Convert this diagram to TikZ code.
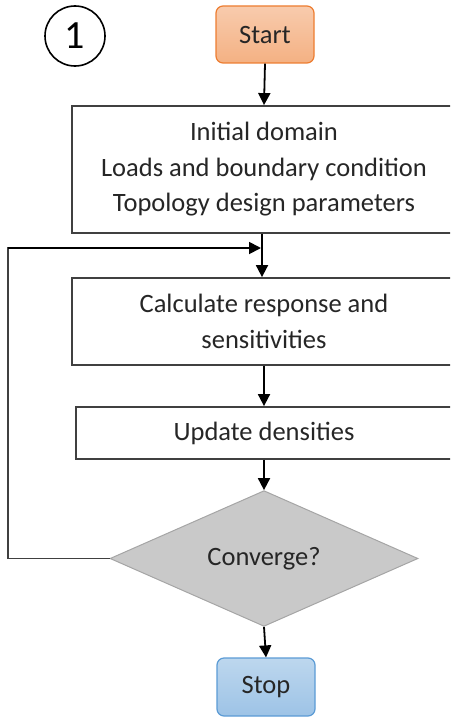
\documentclass[tikz,border=0pt]{standalone}
\usepackage{fontspec}
\setmainfont{Carlito}
\usetikzlibrary{shapes.geometric,arrows.meta}

\definecolor{startfill}{HTML}{F4B183}
\definecolor{startfilltop}{HTML}{F8CBAD}
\definecolor{startline}{HTML}{ED7D31}
\definecolor{stopfill}{HTML}{9DC3E6}
\definecolor{stopfilltop}{HTML}{BDD7EE}
\definecolor{stopline}{HTML}{5B9BD5}
\definecolor{convfill}{HTML}{C9C9C9}
\definecolor{convline}{HTML}{A5A5A5}
\definecolor{boxline}{HTML}{404040}
\definecolor{txt}{HTML}{262626}

\tikzset{
  terminal/.style={rectangle, rounded corners=7pt, line width=1.2pt,
    minimum width=98pt, minimum height=57pt, inner sep=0pt, text=txt},
  stepbox/.style={rectangle, draw=boxline, line width=1.8pt, fill=white,
    align=center, inner sep=0pt, text=txt},
  decision/.style={diamond, draw=convline, line width=1pt, fill=convfill,
    inner sep=0pt, minimum width=308pt, minimum height=107pt, text=txt},
  flow/.style={line width=1.8pt, -{Triangle[length=12pt,width=12pt]}},
  loopline/.style={line width=1.8pt, draw=boxline},
}

\begin{document}
\begin{tikzpicture}[x=1pt, y=-1pt,
  every node/.style={font=\fontsize{26.5}{35.5}\selectfont}]
\useasboundingbox (0,0) rectangle (450,717);
\clip (0,0) rectangle (450,717);

% label circle
\node[circle, draw, line width=1.6pt, minimum size=60pt, inner sep=0pt,
  font=\fontsize{40}{40}\selectfont] (num) at (75,36) {1};

% start / stop terminals
\node[terminal, draw=startline, top color=startfilltop, bottom color=startfill]
  (start) at (265,34.5) {Start};
\node[terminal, draw=stopline, top color=stopfilltop, bottom color=stopfill,
  minimum height=58pt] (stop) at (266,687) {Stop};

% process steps
\node[stepbox, minimum width=384pt, minimum height=127pt] (init) at (264,169.5)
  {Initial domain\\Loads and boundary condition\\Topology design parameters};
\node[stepbox, minimum width=384pt, minimum height=87pt] (resp) at (264,321.5)
  {Calculate response and\\sensitivities};
\node[stepbox, minimum width=376pt, minimum height=52pt] (upd) at (264,433)
  {Update densities};

% convergence test
\node[decision] (conv) at (264,558.5) {Converge?};

% main flow
\draw[flow] (start.south) -- (init.north);
\draw[flow] ([xshift=-2pt]init.south) -- ([xshift=-2pt]resp.north);
\draw[flow] (resp.south) -- (upd.north);
\draw[flow] (upd.south) -- (conv.north);
\draw[flow] (conv.south) -- (stop.north);

% feedback loop
\coordinate (lpA) at (8,558.5);
\coordinate (lpB) at (8,248);
\coordinate (join) at (261,248);
\draw[loopline] (conv.west) -- (lpA) -- (lpB) -- ([xshift=-12pt]join);
\draw[flow] (lpB) -- (join);
\end{tikzpicture}
\end{document}
